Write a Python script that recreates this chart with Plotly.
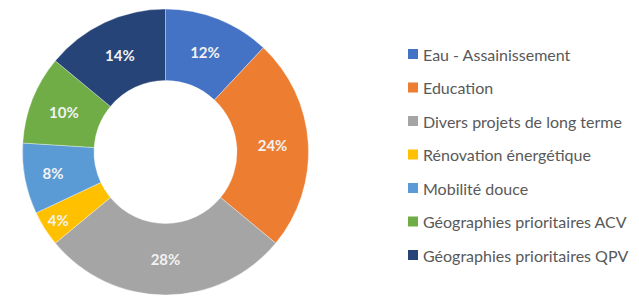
import plotly.graph_objects as go

labels = ["Eau - Assainissement", "Education", "Divers projets de long terme",
          "Rénovation énergétique", "Mobilité douce",
          "Géographies prioritaires ACV", "Géographies prioritaires QPV"]
values = [12, 24, 28, 4, 8, 10, 14]
colors = ["#4472C4", "#ED7D31", "#A5A5A5", "#FFC000", "#5B9BD5", "#70AD47", "#264478"]

W, H = 639, 297
FONT = "Lato, 'Open Sans', sans-serif"

fig = go.Figure(go.Pie(
    labels=labels, values=values, sort=False, direction="clockwise", rotation=0,
    hole=0.5,
    marker=dict(colors=colors, line=dict(color="rgba(255,255,255,0.35)", width=1)),
    textinfo="percent", texttemplate="%{percent:.0%}",
    textposition="inside", insidetextorientation="horizontal",
    textfont=dict(family=FONT, size=15, color="#F2F2F2", weight="bold"),
    domain=dict(x=[22.5 / W, 308.5 / W], y=[2 / H, 288 / H]),
    showlegend=False, hoverinfo="label+percent",
))

# manual legend (rows spaced like the reference)
y0, dy = 54, 33.5
for i, (lab, col) in enumerate(zip(labels, colors)):
    yc = y0 + i * dy
    fig.add_shape(type="rect", xref="paper", yref="paper",
                  x0=408 / W, x1=418 / W, y0=1 - (yc + 5) / H, y1=1 - (yc - 5) / H,
                  fillcolor=col, line=dict(width=0))
    fig.add_annotation(xref="paper", yref="paper", x=421 / W, y=1 - yc / H,
                       xanchor="left", yanchor="middle", text=lab, showarrow=False,
                       font=dict(family=FONT, size=16, color="#595959"))

fig.update_layout(width=W, height=H, margin=dict(l=0, r=0, t=0, b=0),
                  paper_bgcolor="white", plot_bgcolor="white",
                  uniformtext=dict(minsize=15, mode="show"))
fig.write_html("out.html", config={"displayModeBar": False},
               post_script="document.body.style.margin='0';")
